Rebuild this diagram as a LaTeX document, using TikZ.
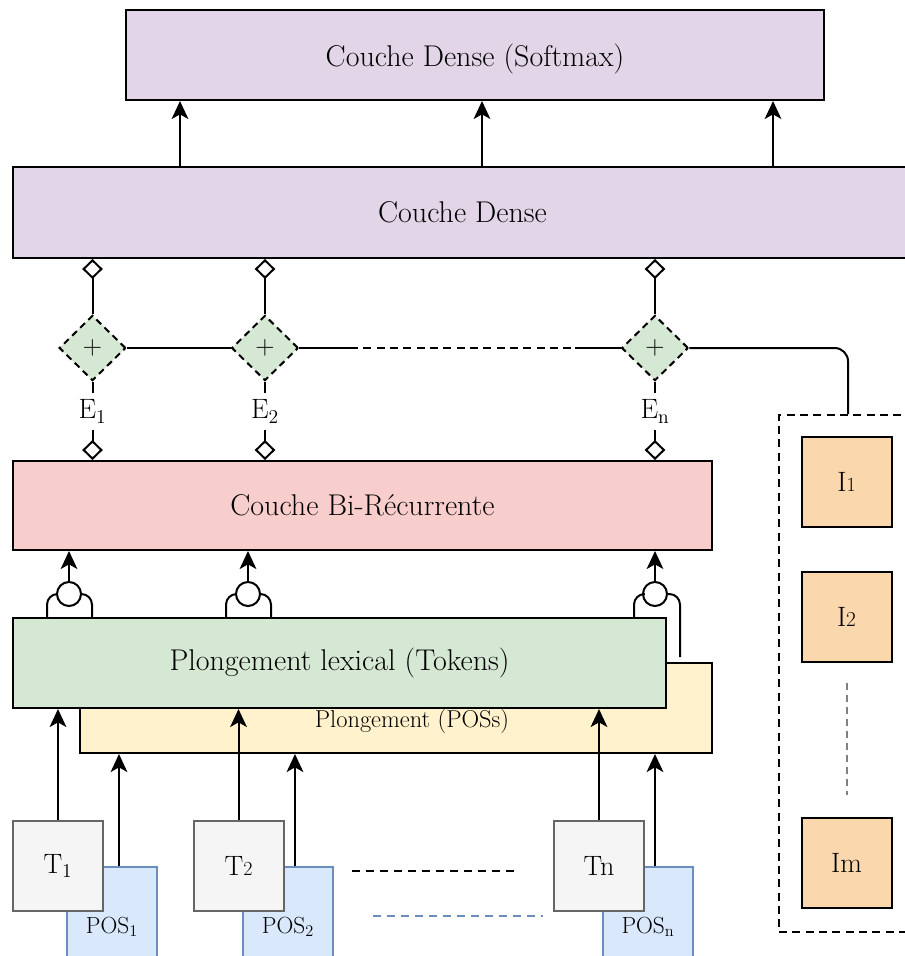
\documentclass[tikz,border=0pt]{standalone}
\usepackage{fontspec}
\usetikzlibrary{arrows.meta,fit,shapes.geometric,calc}
\definecolor{cpurple}{HTML}{E1D5E7}
\definecolor{cred}{HTML}{F8CECC}
\definecolor{cgreen}{HTML}{D5E8D4}
\definecolor{cyellow}{HTML}{FFF2CC}
\definecolor{cgrayf}{HTML}{F5F5F5}
\definecolor{cgrays}{HTML}{666666}
\definecolor{cbluef}{HTML}{DAE8FC}
\definecolor{cblues}{HTML}{6C8EBF}
\definecolor{corange}{HTML}{FAD7AC}
\begin{document}
\begin{tikzpicture}[x=0.75pt,y=-0.75pt,line width=1.5pt,
  box/.style={draw=black,inner sep=0pt,line width=1.5pt},
  big/.style={font=\fontsize{22.5}{26}\selectfont},
  lab/.style={font=\fontsize{21}{24}\selectfont},
  small/.style={font=\fontsize{18.3}{21}\selectfont},
  poslab/.style={font=\fontsize{17.5}{20}\selectfont},
  sq/.style={minimum width=67.5pt,minimum height=67.5pt,inner sep=0pt,line width=1.5pt},
  tbox/.style={sq,draw=cgrays,fill=cgrayf,lab},
  pbox/.style={sq,draw=cblues,fill=cbluef},
  ibox/.style={sq,draw=black,fill=corange,lab},
  plus/.style={diamond,draw=black,fill=cgreen,dashed,dash pattern=on 5pt off 3.5pt,minimum width=50pt,minimum height=49pt,inner sep=0pt,font=\fontsize{20}{20}\selectfont},
  junc/.style={circle,draw=black,fill=white,minimum size=18pt,inner sep=0pt},
  arr/.style={-{Stealth[length=13.5pt,width=12.5pt,inset=3.5pt]}},
  dia/.style={-{Diamond[open,length=15pt,width=15.5pt]}},
  rdia/.style={{Diamond[open,length=15pt,width=15.5pt]}-},
  elab/.style={lab,fill=white,inner xsep=1pt,inner ysep=5pt}]
\useasboundingbox (0,0) rectangle (905,956);

% layers
\node[box,fill=cpurple,minimum width=523.5pt,minimum height=67.5pt,text depth=0pt,big] (soft) at (475,55) {Couche Dense (Softmax)};
\node[box,fill=cpurple,minimum width=674.25pt,minimum height=68.25pt,big] (dense) at (462.5,212.5) {Couche Dense};
\node[box,fill=cred,minimum width=524.25pt,minimum height=66.75pt,big] (birec) at (362.5,505.5) {Couche Bi-Récurrente};
\node[box,fill=cyellow,minimum width=474pt,minimum height=67.5pt] (posbox) at (396,708) {};
\node[small] (poslab) at (412,721) {Plongement (POSs)};
\node[box,fill=cgreen,minimum width=489.75pt,minimum height=67.5pt,big] (lex) at (339.5,663) {Plongement lexical (Tokens)};

% inputs
\node[pbox] (p1) at (112,912) {};
\node[pbox] (p2) at (288,912) {};
\node[pbox] (pn) at (648,912) {};
\node[poslab] (pl1) at (112,927) {POS\textsubscript{1}};
\node[poslab] (pl2) at (288,927) {POS\textsubscript{2}};
\node[poslab] (pln) at (648,927) {POS\textsubscript{n}};
\node[tbox] (t1) at (58,866) {T\textsubscript{1}};
\node[tbox] (t2) at (238.5,866) {T{\fontsize{15}{15}\selectfont 2}};
\node[tbox] (tn) at (599,866) {Tn};

% combination
\node[plus] (g1) at (92.5,348) {+};
\node[plus] (g2) at (265,348) {+};
\node[plus] (g3) at (655,348) {+};

\node[junc] (c1) at (69,594) {};
\node[junc] (c2) at (248,594) {};
\node[junc] (c3) at (655,594) {};

% group of I
\node[draw=black,dashed,dash pattern=on 6pt off 4pt,inner sep=0pt,minimum width=102pt,minimum height=387.75pt] (group) at (847,673.5) {};
\node[ibox] (i1) at (846.5,482) {I{\fontsize{15}{15}\selectfont 1}};
\node[ibox] (i2) at (846.5,617) {I{\fontsize{16}{16}\selectfont 2}};
\node[ibox] (im) at (846.5,863) {Im};

% dense -> softmax
\coordinate (a1) at (180,0);
\coordinate (a2) at (482,0);
\coordinate (a3) at (773,0);
\draw[arr] (dense.north -| a1) -- (soft.south -| a1);
\draw[arr] (dense.north -| a2) -- (soft.south -| a2);
\draw[arr] (dense.north -| a3) -- (soft.south -| a3);

% sums -> dense
\draw[dia] (g1.north) -- (dense.south -| g1.north);
\draw[dia] (g2.north) -- (dense.south -| g2.north);
\draw[dia] (g3.north) -- (dense.south -| g3.north);

% birec -> sums
\draw[rdia] (birec.north -| g1.south) -- node[elab,pos=0.62] {E\textsubscript{1}} (g1.south);
\draw[rdia] (birec.north -| g2.south) -- node[elab,pos=0.62] {E\textsubscript{2}} (g2.south);
\draw[rdia] (birec.north -| g3.south) -- node[elab,pos=0.62] {E\textsubscript{n}} (g3.south);

% horizontal chain
\coordinate (h1) at (350,348);
\coordinate (h2) at (575,348);
\coordinate (k) at (848,348);
\draw (g1.east) -- (g2.west);
\draw (g2.east) -- (h1);
\draw[dashed,dash pattern=on 6pt off 4pt] (h1) -- (h2);
\draw (h2) -- (g3.west);
\draw[rounded corners=10pt] (g3.east) -- (k) -- (group.north -| k);

% junctions -> birec
\draw[arr] (c1.north) -- (birec.south -| c1.north);
\draw[arr] (c2.north) -- (birec.south -| c2.north);
\draw[arr] (c3.north) -- (birec.south -| c3.north);

\coordinate (l1) at (47,0);
\coordinate (r1) at (92,0);
\coordinate (l2) at (226,0);
\coordinate (r2) at (271,0);
\coordinate (l3) at (634,0);
\coordinate (r3) at (680,0);
\draw[rounded corners=8pt] (lex.north -| l1) |- (c1.west);
\draw[rounded corners=8pt] (lex.north -| r1) |- (c1.east);
\draw[rounded corners=8pt] (lex.north -| l2) |- (c2.west);
\draw[rounded corners=8pt] (lex.north -| r2) |- (c2.east);
\draw[rounded corners=8pt] (lex.north -| l3) |- (c3.west);
\draw[rounded corners=8pt] ($(posbox.north -| r3)+(0,-5)$) |- (c3.east);

% tokens -> lex
\draw[arr] (t1.north) -- (lex.south -| t1.north);
\draw[arr] (t2.north) -- (lex.south -| t2.north);
\draw[arr] (tn.north) -- (lex.south -| tn.north);

% pos -> posbox
\path ([xshift=5.25pt]p1.north) coordinate (q1);
\path ([xshift=5.25pt]p2.north) coordinate (q2);
\path ([xshift=5.25pt]pn.north) coordinate (qn);
\draw[arr] (q1) -- (q1 |- posbox.south);
\draw[arr] (q2) -- (q2 |- posbox.south);
\draw[arr] (qn) -- (qn |- posbox.south);

% ellipses
\coordinate (d1) at (352,871);
\coordinate (d2) at (520,871);
\coordinate (e1) at (373,916);
\coordinate (e2) at (543,916);
\draw[dashed,dash pattern=on 6pt off 4.5pt] (d1) -- (d2);
\draw[cblues,dashed,dash pattern=on 6pt off 4.5pt] (e1) -- (e2);
\draw[gray,dashed,dash pattern=on 5pt off 4pt] ($(i2.south)+(0,20)$) -- ($(im.north)+(0,-22)$);
\end{tikzpicture}
\end{document}
